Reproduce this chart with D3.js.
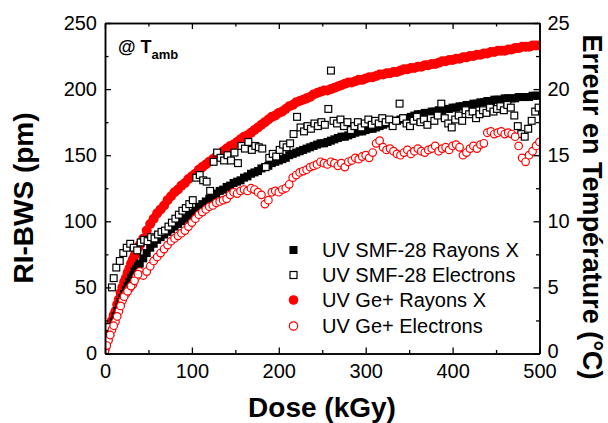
<!DOCTYPE html>
<html><head><meta charset="utf-8">
<script src="https://cdn.jsdelivr.net/npm/d3@7"></script>
<style>body{margin:0;background:#fff}svg{display:block}text{font-family:"Liberation Sans",Arial,sans-serif}</style>
</head><body>
<script>
// ---- data ----
const doseStep4 = [0,4,8,12,16,20,24,28,32,36,40,44,48,52,56,60,64,68,72,76,80,84,88,92,96,100,104,108,112,116,120,124,128,132,136,140,144,148,152,156,160,164,168,172,176,180,184,188,192,196,200,204,208,212,216,220,224,228,232,236,240,244,248,252,256,260,264,268,272,276,280,284,288,292,296,300,304,308,312,316,320,324,328,332,336,340,344,348,352,356,360,364,368,372,376,380,384,388,392,396,400,404,408,412,416,420,424,428,432,436,440,444,448,452,456,460,464,468,472,476,480,484,488,492,496,500];
const geXrayValues = [4,16,25,32,41,50,57,64,71,77,82,87,93,98,102,106,109,112,116,119,122,124,127,129,132,134,136,139,141,143,145,147,149,151,153,155,157,158,160,162,164,165,167,169,171,173,175,177,179,180,182,183,185,187,188,190,191,192,193,194,196,197,198,199,199,200,201,202,203,204,205,205,206,207,207,208,209,209,210,211,211,212,212,213,213,214,215,215,216,216,217,217,218,218,219,219,220,221,221,222,222,223,223,224,224,225,225,226,226,227,227,228,228,229,229,229,230,230,231,231,232,232,232,233,233,233];
const smfXrayValues = [3,12,20,28,35,42,48,54,59,64,68,72,76,80,83,86,88,90,92,94,96,98,100,102,104,106,108,111,113,115,117,119,121,123,124,126,127,129,130,131,133,134,136,137,138,140,141,142,144,145,146,147,148,150,151,152,153,154,155,156,157,158,159,159,160,161,162,163,164,164,165,166,167,168,168,169,170,170,171,172,173,174,175,176,176,177,178,178,179,180,181,181,182,182,183,183,184,184,185,185,186,186,187,187,188,188,189,189,190,190,191,191,192,192,192,193,193,193,193,194,194,194,194,195,195,195];
const geElecValues = [2,10,18,24,32,40,45,49,52,58,62,59,62,66,70,73,76,79,82,85,87,89,91,93,96,99,102,105,107,109,111,112,114,115,116,117,120,122,121,123,124,123,125,124,122,120,113,116,122,123,122,124,125,128,133,135,137,138,139,141,142,143,145,144,143,145,144,142,144,141,145,146,148,147,149,150,148,152,159,161,156,154,155,153,151,150,152,154,151,153,155,153,152,154,155,157,153,155,156,154,157,158,156,150,152,155,157,155,158,159,167,168,166,167,168,166,167,166,164,157,148,145,150,153,157,160];
// extra early-dose readings (the curves are densely sampled where they rise steeply)
const earlyDose = [2,6,10,14,18,22,26,30,34,38];
const geXrayEarly = [11,21,29,37,46,54,61,68,74,80];
const smfXrayEarly = [8,16,24,32,39,45,51,57,62,66];
const geElecEarly = [6,14,21,28,36,43,47,51,55,60];
const smfElecDose = [0,4,8,10,13,17,21,25,29,33,37,41,45,49,53,57,61,65,69,73,77,81,85,89,93,97,101,105,109,113,117,121,125,129,133,137,141,145,149,153,157,161,165,169,173,177,181,185,189,193,197,201,205,209,213,217,221,225,229,233,237,241,245,249,253,257,260,263,267,271,275,279,283,287,291,295,299,303,307,311,315,319,323,327,331,335,339,343,347,351,355,359,363,367,371,375,379,383,387,391,395,399,403,407,411,415,419,423,427,431,435,439,443,447,451,455,459,463,467,471,475,479,483,487,491,495,499];
const smfElecValues = [8,20,50,57,65,70,76,80,83,80,78,84,86,85,88,87,90,92,93,96,99,102,105,108,110,113,116,133,135,131,130,123,145,152,148,146,150,146,152,144,157,155,160,154,157,156,155,141,148,151,149,154,158,156,159,166,179,171,168,172,170,174,172,175,173,185,214,176,174,177,172,175,169,172,175,171,174,177,173,176,174,178,175,177,172,176,189,178,174,172,176,179,175,177,173,178,176,180,189,178,174,171,177,180,176,184,181,183,178,181,184,182,186,183,185,187,184,188,186,180,172,166,164,170,176,183,186];

const xTicks = [0,100,200,300,400,500];
const yTicks = [0,50,100,150,200,250];
const y2Ticks = [0,5,10,15,20,25];
const legendLabels = ["UV SMF-28 Rayons X","UV SMF-28 Electrons","UV Ge+ Rayons X","UV Ge+ Electrons"];

const W = 608, H = 423;
const svg = d3.select("body").append("svg").attr("width", W).attr("height", H);
const x = d3.scaleLinear().domain([0,500]).range([105,539.5]);
const y = d3.scaleLinear().domain([0,250]).range([353.5,23]);
const y2 = d3.scaleLinear().domain([0,25]).range([353.5,23]);

svg.append("clipPath").attr("id","pc").append("rect")
  .attr("x",105).attr("y",23).attr("width",434.5).attr("height",330.5);
const plot = svg.append("g").attr("clip-path","url(#pc)");

const zip = (xs, ys) => xs.map((d,i)=>[d, ys[i]]);
const RED = "#ff0000";

// Ge+ Rayons X (filled red circles)
plot.append("g").selectAll("circle").data(zip(doseStep4, geXrayValues).concat(zip(earlyDose, geXrayEarly))).join("circle")
  .attr("cx", d=>x(d[0])).attr("cy", d=>y(d[1])).attr("r", 5).attr("fill", RED);
// SMF-28 Rayons X (filled black squares)
plot.append("g").selectAll("rect").data(zip(doseStep4, smfXrayValues).concat(zip(earlyDose, smfXrayEarly))).join("rect")
  .attr("x", d=>x(d[0])-4).attr("y", d=>y(d[1])-4).attr("width",8).attr("height",8).attr("fill","#000");
// SMF-28 Electrons (open squares)
plot.append("g").selectAll("rect").data(zip(smfElecDose, smfElecValues)).join("rect")
  .attr("x", d=>x(d[0])-3.4).attr("y", d=>y(d[1])-3.4).attr("width",6.8).attr("height",6.8)
  .attr("fill","#fff").attr("stroke","#000").attr("stroke-width",1.2);
// Ge+ Electrons (open red circles)
plot.append("g").selectAll("circle").data(zip(doseStep4, geElecValues).concat(zip(earlyDose, geElecEarly))).join("circle")
  .attr("cx", d=>x(d[0])).attr("cy", d=>y(d[1])).attr("r", 3.8)
  .attr("fill","#fff").attr("stroke",RED).attr("stroke-width",1.2);

// ---- axes ----
const fs = 20;
function styleAxis(g){ g.select(".domain").attr("stroke","#000").attr("stroke-width",1.5);
  g.selectAll(".tick line").attr("stroke","#000").attr("stroke-width",1.3);
  g.selectAll(".tick text").attr("font-size",fs).attr("fill","#000")
   .attr("font-family",'"Liberation Sans",Arial,sans-serif'); }
const minorX = [50,150,250,350,450];
const minorY = [25,75,125,175,225];
const minorY2 = [2.5,7.5,12.5,17.5,22.5];

// bottom
svg.append("g").attr("transform",`translate(0,${y(0)})`)
  .call(d3.axisBottom(x).tickValues(xTicks).tickSize(-6).tickPadding(10).tickSizeOuter(0)).call(styleAxis);
svg.append("g").attr("transform",`translate(0,${y(0)})`)
  .call(d3.axisBottom(x).tickValues(minorX).tickSize(-3.5).tickFormat("").tickSizeOuter(0)).call(styleAxis);
// top
svg.append("g").attr("transform",`translate(0,${y(250)})`)
  .call(d3.axisTop(x).tickValues(xTicks).tickSize(-6).tickFormat("").tickSizeOuter(0)).call(styleAxis);
svg.append("g").attr("transform",`translate(0,${y(250)})`)
  .call(d3.axisTop(x).tickValues(minorX).tickSize(-3.5).tickFormat("").tickSizeOuter(0)).call(styleAxis);
// left
svg.append("g").attr("transform",`translate(${x(0)},0)`)
  .call(d3.axisLeft(y).tickValues(yTicks).tickSize(-6).tickPadding(8).tickSizeOuter(0)).call(styleAxis);
svg.append("g").attr("transform",`translate(${x(0)},0)`)
  .call(d3.axisLeft(y).tickValues(minorY).tickSize(-3.5).tickFormat("").tickSizeOuter(0)).call(styleAxis);
// right
const gr = svg.append("g").attr("transform",`translate(${x(500)},0)`)
  .call(d3.axisRight(y2).tickValues(y2Ticks).tickSize(-6).tickPadding(8).tickSizeOuter(0)).call(styleAxis);
gr.selectAll(".tick text").filter(d=>d===0).attr("dy","0.2em");
svg.append("g").attr("transform",`translate(${x(500)},0)`)
  .call(d3.axisRight(y2).tickValues(minorY2).tickSize(-3.5).tickFormat("").tickSizeOuter(0)).call(styleAxis);

// ---- titles ----
svg.append("text").attr("x",322).attr("y",417).attr("text-anchor","middle")
  .attr("font-size",28).attr("font-weight","bold").text("Dose (kGy)");
svg.append("text").attr("transform","translate(33,198) rotate(-90)").attr("text-anchor","middle")
  .attr("font-size",28).attr("font-weight","bold").text("RI-BWS (pm)");
svg.append("text").attr("transform","translate(583,207) rotate(90)").attr("text-anchor","middle")
  .attr("font-size",27).attr("font-weight","bold").text("Erreur en Température (°C)");

// annotation @ T_amb
const ann = svg.append("text").attr("x",118).attr("y",53).attr("font-size",18).attr("font-weight","bold");
ann.append("tspan").text("@ T");
ann.append("tspan").attr("font-size",13).attr("dy",6).text("amb");

// ---- legend ----
const lg = svg.append("g");
const ly = [250,275,300,326];
lg.append("rect").attr("x",289.5).attr("y",ly[0]-4).attr("width",8).attr("height",8).attr("fill","#000");
lg.append("rect").attr("x",290).attr("y",ly[1]-3.5).attr("width",7).attr("height",7).attr("fill","#fff").attr("stroke","#000").attr("stroke-width",1.2);
lg.append("circle").attr("cx",293.5).attr("cy",ly[2]).attr("r",4.8).attr("fill",RED);
lg.append("circle").attr("cx",293.5).attr("cy",ly[3]).attr("r",4.2).attr("fill","#fff").attr("stroke",RED).attr("stroke-width",1.2);
legendLabels.forEach((t,i)=>{
  lg.append("text").attr("x",322).attr("y",ly[i]).attr("dy","0.36em").attr("font-size",20).text(t);
});
</script>
</body></html>
